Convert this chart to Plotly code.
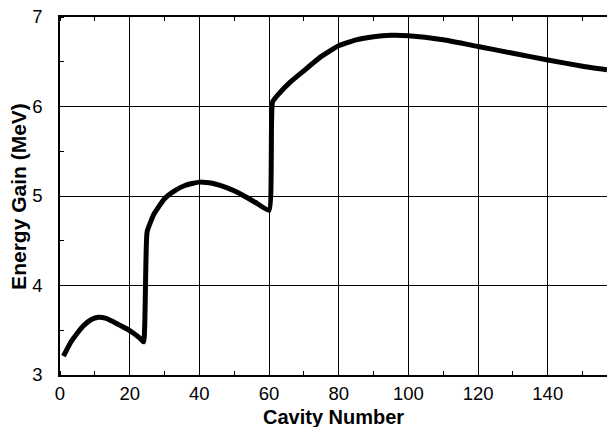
import plotly.graph_objects as go

cavity = [1, 3, 5, 7, 9, 11, 13, 15, 17, 19, 21, 23, 24,
          25, 27, 30, 33, 36, 40, 44, 48, 52, 56, 60,
          61, 63, 66, 70, 75, 80, 85, 90, 95, 100, 110, 120, 130, 140, 150, 157]
energy = [3.21, 3.36, 3.47, 3.56, 3.62, 3.645, 3.635, 3.60, 3.56, 3.52, 3.47, 3.41, 3.37,
          4.60, 4.80, 4.97, 5.06, 5.12, 5.155, 5.14, 5.09, 5.02, 4.93, 4.84,
          6.05, 6.15, 6.27, 6.40, 6.56, 6.68, 6.745, 6.78, 6.795, 6.79, 6.745, 6.67, 6.595, 6.52, 6.45, 6.41]

x_ticks = [0, 20, 40, 60, 80, 100, 120, 140]
y_ticks = [3, 4, 5, 6, 7]
x_title = "Cavity Number"
y_title = "Energy Gain (MeV)"

font_family = "Liberation Sans, Arial, Helvetica, sans-serif"

fig = go.Figure()
fig.add_trace(go.Scatter(
    x=cavity, y=energy, mode="lines",
    line=dict(color="black", width=5, shape="spline", smoothing=0.4),
    showlegend=False,
))

fig.update_layout(
    width=607, height=427,
    margin=dict(l=60, r=0, t=17, b=52),
    paper_bgcolor="white", plot_bgcolor="white",
    font=dict(family=font_family, color="black", size=18.5),
)
fig.update_xaxes(
    range=[0, 157], tickvals=x_ticks, ticktext=[str(v) for v in x_ticks],
    showgrid=True, gridcolor="black", gridwidth=1,
    showline=True, linecolor="black", linewidth=1.5, mirror="allticks",
    ticks="", ticklabelstandoff=1,
    minor=dict(dtick=10, tick0=0, ticks="inside", ticklen=4, tickcolor="black", showgrid=False),
    zeroline=False,
    tickfont=dict(size=18.5),
)
fig.update_yaxes(
    range=[3, 7], tickvals=y_ticks, ticktext=[str(v) for v in y_ticks],
    showgrid=True, gridcolor="black", gridwidth=1,
    showline=True, linecolor="black", linewidth=1.5, mirror=False,
    ticks="", ticklabelstandoff=12,
    minor=dict(dtick=0.5, tick0=3, ticks="inside", ticklen=4, tickcolor="black", showgrid=False),
    zeroline=False,
    tickfont=dict(size=18.5),
)
fig.add_annotation(
    text="<b>" + x_title + "</b>", xref="paper", yref="paper",
    x=0.5, y=-0.117, xanchor="center", yanchor="middle",
    showarrow=False, font=dict(size=20),
)
fig.add_annotation(
    text="<b>" + y_title + "</b>", xref="paper", yref="paper",
    x=-0.077, y=0.5, xanchor="center", yanchor="middle", textangle=-90,
    showarrow=False, font=dict(size=21),
)

fig.write_html("out.html")
